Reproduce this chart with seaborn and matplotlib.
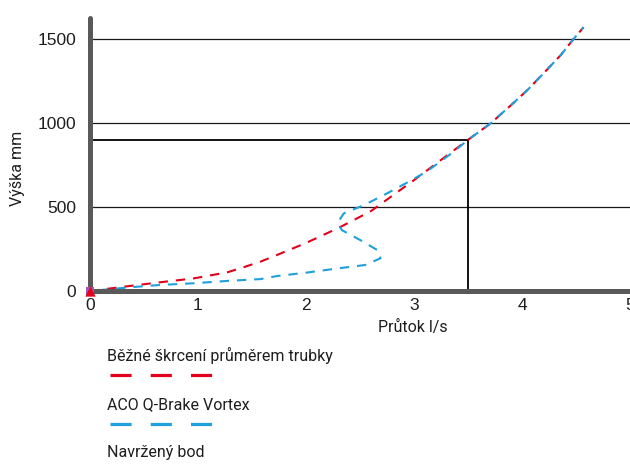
import matplotlib
matplotlib.use("Agg")
import matplotlib.pyplot as plt
from matplotlib.lines import Line2D
import seaborn as sns
import pandas as pd

# Flow (l/s) vs. water height (mm)
pipe_flow = [0, 0.37, 0.65, 0.96, 1.27, 1.42, 1.58, 1.73, 2.0, 2.3, 2.6, 3.0,
             3.5, 3.71, 3.9, 4.05, 4.2, 4.36, 4.47, 4.57]
pipe_height = [0, 30, 52, 75, 111, 141, 175, 214, 286, 375, 475, 660,
               900, 998, 1107, 1196, 1296, 1405, 1494, 1570]

vortex_flow = [0, 0.37, 0.65, 0.96, 1.27, 1.58, 1.73, 2.0, 2.3, 2.55, 2.69, 2.67,
               2.5, 2.33, 2.30, 2.35, 2.54, 2.75, 2.95, 3.12, 3.37, 3.5,
               3.71, 3.9, 4.05, 4.2, 4.36, 4.47, 4.57]
vortex_height = [0, 22, 36, 46, 60, 71, 89, 109, 135, 155, 195, 240,
                 304, 363, 413, 462, 512, 581, 650, 712, 830, 900,
                 998, 1107, 1196, 1296, 1405, 1494, 1570]

design_flow = 3.5
design_height = 900

x_ticks = [0, 1, 2, 3, 4, 5]
y_ticks = [0, 500, 1000, 1500]

series_labels = ["Běžné škrcení průměrem trubky", "ACO Q-Brake Vortex", "Navržený bod"]
x_title = "Průtok l/s"
y_title = "Výška mm"

RED = "#e2001a"
BLUE = "#1ea0dc"
SPINE = "#595959"
TEXT = "#1e1e1e"

sns.set_style("white")
plt.rcParams["font.family"] = ["Liberation Sans", "DejaVu Sans"]
LABEL_FONT = ["Roboto", "DejaVu Sans"]

W, H = 630, 466
fig = plt.figure(figsize=(W / 100, H / 100), dpi=100)
ax = fig.add_axes([90 / W, 1 - 291 / H, 540 / W, 273 / H])

pipe = pd.DataFrame({"flow": pipe_flow, "height": pipe_height})
vortex = pd.DataFrame({"flow": vortex_flow, "height": vortex_height})

sns.lineplot(data=pipe, x="flow", y="height", sort=False, estimator=None, ax=ax,
             color=RED, lw=1.5, linestyle=(0, (4.5, 3.8)), zorder=4)
sns.lineplot(data=vortex, x="flow", y="height", sort=False, estimator=None, ax=ax,
             color=BLUE, lw=1.5, linestyle=(4, (4.5, 3.8)), zorder=5)

# design point guide lines
ax.plot([0, design_flow], [design_height, design_height], color="black", lw=1.3, zorder=3)
ax.plot([design_flow, design_flow], [0, design_height], color="black", lw=1.3, zorder=3)

# origin markers
ax.scatter([0], [0], marker="s", s=40, color="#9b59b6", zorder=8, clip_on=False, linewidths=0)
ax.scatter([0], [0], marker="^", s=55, color=RED, zorder=9, clip_on=False, linewidths=0)

ax.set_xlim(0, 5)
ax.set_ylim(0, 1625)
ax.set_xticks(x_ticks)
ax.set_yticks(y_ticks)
ax.grid(axis="y", color="#1a1a1a", lw=0.9)
ax.grid(axis="x", visible=False)
ax.set_axisbelow(True)

for side in ["top", "right"]:
    ax.spines[side].set_visible(False)
for side in ["left", "bottom"]:
    ax.spines[side].set_color(SPINE)
    ax.spines[side].set_linewidth(3.6)
    ax.spines[side].set_capstyle("round")
    ax.spines[side].set_zorder(6)

ax.tick_params(axis="y", length=0, pad=10, labelsize=12.5, labelcolor=TEXT)
ax.tick_params(axis="x", length=4, width=1, color="black", direction="out", pad=1,
               labelsize=12.5, labelcolor=TEXT)
ax.set_xlabel("")
ax.set_ylabel("")

fig.text(413 / W, 1 - 327 / H, x_title, ha="center", va="center",
         fontsize=11.5, family=LABEL_FONT, color=TEXT)
fig.text(18 / W, 1 - 168 / H, y_title, ha="center", va="center", rotation=90,
         fontsize=11.5, family=LABEL_FONT, color=TEXT)

# legend block under the plot
legend_rows = [(355, 375, RED), (405, 424, BLUE), (453, None, None)]
for label, (ty, ly, col) in zip(series_labels, legend_rows):
    fig.text(107 / W, 1 - ty / H, label, ha="left", va="center",
             fontsize=11.5, family=LABEL_FONT, color=TEXT)
    if col is not None:
        fig.add_artist(Line2D([110 / W, 212 / W], [1 - ly / H, 1 - ly / H],
                              transform=fig.transFigure, color=col, lw=2.3,
                              linestyle=(0, (6.6, 6.0)), dash_capstyle="butt"))

fig.savefig("out.png", dpi=100)
